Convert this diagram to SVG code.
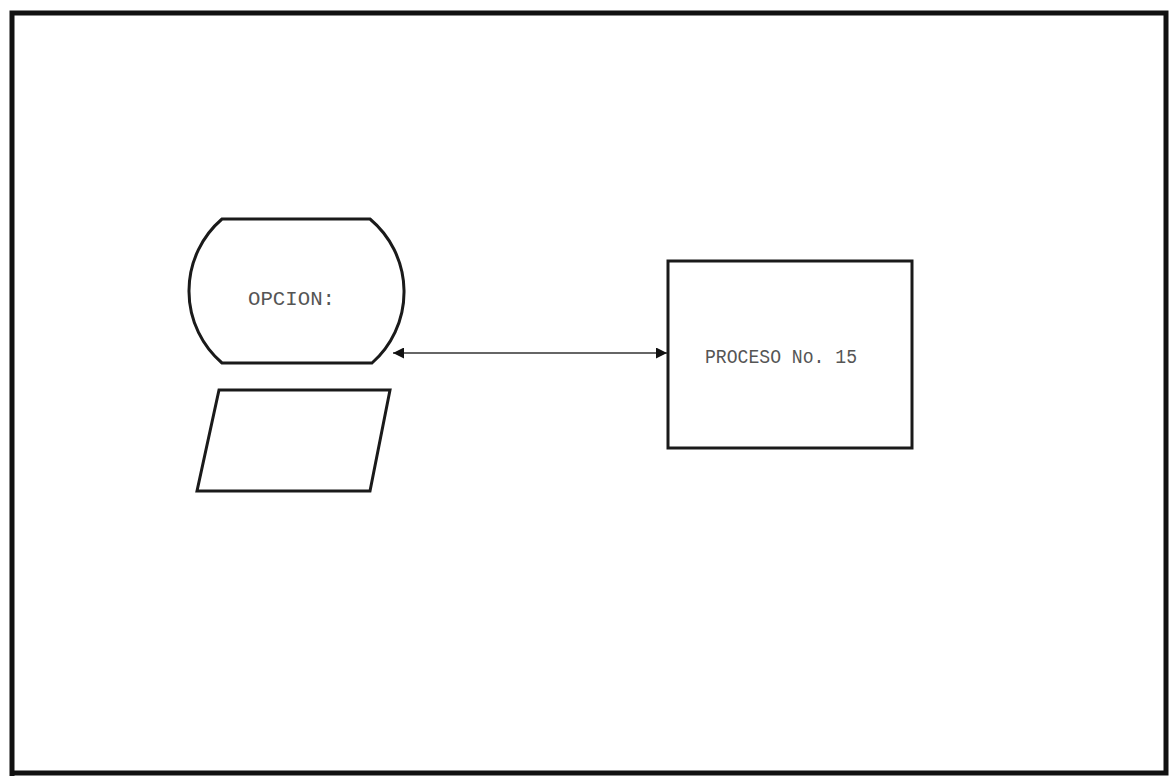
<svg xmlns="http://www.w3.org/2000/svg" width="1173" height="776" viewBox="0 0 1173 776">
<style>
.shape{fill:none;stroke:#1a1a1a;stroke-width:3}
.lbl{font-family:"Liberation Mono","DejaVu Sans Mono",monospace;font-size:21px;fill:#555}
.conn{stroke:#333;stroke-width:1.6;fill:none}
</style>
<defs>
<marker id="ah" viewBox="0 0 10 10" refX="10" refY="5" markerWidth="11" markerHeight="11" markerUnits="userSpaceOnUse" orient="auto-start-reverse">
<path d="M0,0 L10,5 L0,10 Z" fill="#111"/>
</marker>
</defs>
<rect width="1173" height="776" fill="#fff"/>
<g id="frame">
<path d="M12,776 L12,13 L1166,13 L1166,773 L12,773" fill="none" stroke="#111" stroke-width="5"/>
</g>
<g id="opcion">
<path class="shape" d="M222,219 L370,219 A95,95 0 0 1 372,363 L222,363 A95,95 0 0 1 222,219 Z"/>
<text class="lbl" x="248" y="305" textLength="87" lengthAdjust="spacingAndGlyphs">OPCION:</text>
</g>
<g id="entrada">
<path class="shape" d="M219,390 L390,390 L370,491 L197,491 Z"/>
</g>
<g id="proceso">
<rect class="shape" x="668" y="261" width="244" height="187"/>
<text class="lbl" x="705" y="363" textLength="152" lengthAdjust="spacingAndGlyphs">PROCESO No. 15</text>
</g>
<g id="connectors">
<line class="conn" x1="393" y1="353" x2="667" y2="353" marker-start="url(#ah)" marker-end="url(#ah)"/>
</g>
</svg>
